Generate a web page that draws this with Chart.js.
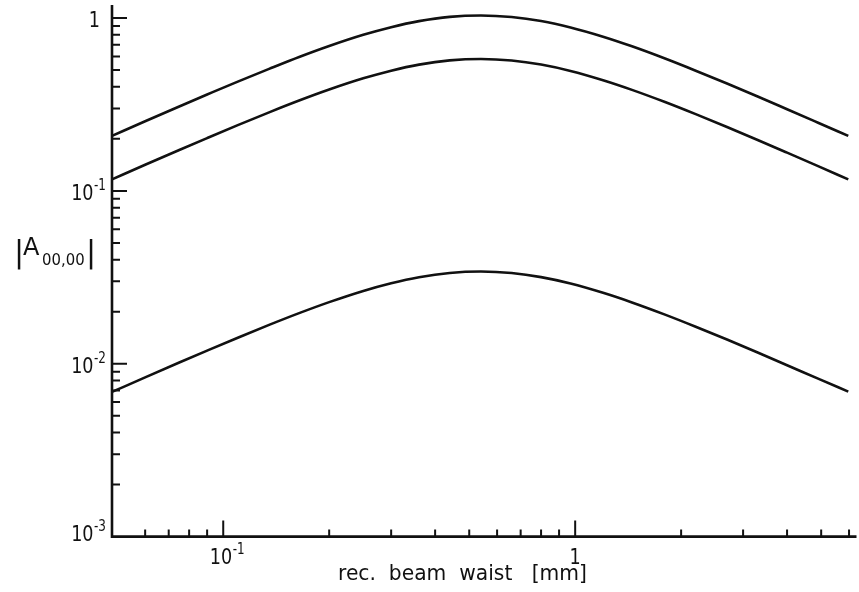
<!DOCTYPE html>
<html>
<head>
<meta charset="utf-8">
<script src="https://cdn.jsdelivr.net/npm/chart.js@4.4.1/dist/chart.umd.min.js"></script>
<style>
  html, body { margin: 0; padding: 0; background: #fff; }
  #wrap { width: 859px; height: 592px; }
</style>
</head>
<body>
<div id="wrap"><canvas id="chart" width="859" height="592"></canvas></div>
<script>
// rec. beam waist [mm]
const waist    = [0.0483, 0.06, 0.075, 0.09, 0.11, 0.135, 0.165, 0.2, 0.25, 0.3, 0.36, 0.44, 0.54,
                  0.66, 0.8, 0.97, 1.2, 1.45, 1.8, 2.2, 2.7, 3.3, 4, 4.9, 5.97];
// |A00,00| for the three curves
const curveTop = [0.208, 0.253, 0.308, 0.361, 0.429, 0.508, 0.597, 0.689, 0.800, 0.886, 0.960, 1.016, 1.035,
                  1.014, 0.961, 0.882, 0.780, 0.686, 0.583, 0.496, 0.418, 0.352, 0.297, 0.248, 0.208];
const curveMid = [0.1166, 0.1416, 0.1724, 0.2021, 0.2401, 0.2847, 0.3342, 0.3857, 0.4478, 0.4963, 0.5378, 0.5688, 0.5797,
                  0.5681, 0.5380, 0.4941, 0.4367, 0.3842, 0.3267, 0.2780, 0.2341, 0.1971, 0.1665, 0.1391, 0.1166];
const curveLow = [0.00687, 0.00834, 0.01016, 0.01191, 0.01415, 0.01678, 0.01969, 0.02273, 0.02639, 0.02924, 0.03169, 0.03352, 0.03416,
                  0.03348, 0.03170, 0.02912, 0.02573, 0.02264, 0.01925, 0.01638, 0.0138, 0.01161, 0.00981, 0.0082, 0.00690];

// axis ticks and labels
const xMajor = [0.1, 1];
const xMinor = [0.06, 0.07, 0.08, 0.09, 0.2, 0.3, 0.4, 0.5, 0.6, 0.7, 0.8, 0.9, 2, 3, 4, 5, 6];
const xTickBase = ['10', '1'];
const xTickExp  = ['-1', ''];
const yMajor = [1, 0.1, 0.01, 0.001];
const yMinor = [0.9, 0.8, 0.7, 0.6, 0.5, 0.4, 0.3, 0.2,
                0.09, 0.08, 0.07, 0.06, 0.05, 0.04, 0.03, 0.02,
                0.009, 0.008, 0.007, 0.006, 0.005, 0.004, 0.003, 0.002];
const yTickBase = ['1', '10', '10', '10'];
const yTickExp  = ['', '-1', '-2', '-3'];

const FONT = '"DejaVu Sans"';
const SX = 0.8; // squeeze text a bit, the original lettering is narrow

function txt(ctx, s, x, y, size, align, sx) {
  sx = sx || SX;
  ctx.save();
  ctx.font = size + 'px ' + FONT;
  const w = ctx.measureText(s).width * sx;
  const left = align === 'right' ? x - w : align === 'center' ? x - w / 2 : x;
  ctx.translate(left, y);
  ctx.scale(sx, 1);
  ctx.textAlign = 'left';
  ctx.textBaseline = 'alphabetic';
  ctx.fillText(s, 0, 0);
  ctx.restore();
  return w;
}

function widthOf(ctx, s, size) {
  ctx.save();
  ctx.font = size + 'px ' + FONT;
  const w = ctx.measureText(s).width * SX;
  ctx.restore();
  return w;
}

// 10^-n style label drawn from its left edge
function powLabel(ctx, base, exp, left, baseline) {
  const wb = txt(ctx, base, left, baseline, 22, 'left');
  if (exp) txt(ctx, exp, left + wb + 0.5, baseline - 10, 15, 'left');
}
function powWidth(ctx, base, exp) {
  return widthOf(ctx, base, 22) + (exp ? widthOf(ctx, exp, 15) + 0.5 : 0);
}

const axesPlugin = {
  id: 'axesPlugin',
  afterDraw(chart) {
    const ctx = chart.ctx;
    const xs = chart.scales.x, ys = chart.scales.y;
    const a = chart.chartArea;
    ctx.save();
    ctx.strokeStyle = '#111';
    ctx.fillStyle = '#111';
    ctx.lineCap = 'butt';

    // axis lines
    ctx.lineWidth = 2.6;
    ctx.beginPath();
    ctx.moveTo(a.left, a.top);
    ctx.lineTo(a.left, a.bottom + 1.3);
    ctx.moveTo(a.left - 1.3, a.bottom);
    ctx.lineTo(a.right, a.bottom);
    ctx.stroke();

    // ticks, pointing into the plot
    ctx.lineWidth = 2;
    ctx.beginPath();
    yMajor.forEach(v => { if (v < 0.005) return; const p = ys.getPixelForValue(v); ctx.moveTo(a.left, p); ctx.lineTo(a.left + 15, p); });
    yMinor.forEach(v => { const p = ys.getPixelForValue(v); ctx.moveTo(a.left, p); ctx.lineTo(a.left + 8, p); });
    xMajor.forEach(v => { const p = xs.getPixelForValue(v); ctx.moveTo(p, a.bottom); ctx.lineTo(p, a.bottom - 16); });
    xMinor.forEach(v => { const p = xs.getPixelForValue(v); ctx.moveTo(p, a.bottom); ctx.lineTo(p, a.bottom - 7); });
    ctx.stroke();

    // y tick labels
    yMajor.forEach((v, i) => {
      const p = ys.getPixelForValue(v);
      const right = yTickExp[i] ? 106 : 100;
      const w = powWidth(ctx, yTickBase[i], yTickExp[i]);
      const dy = v < 0.005 ? 4 : 9;
      powLabel(ctx, yTickBase[i], yTickExp[i], right - w, p + dy);
    });
    // x tick labels
    xMajor.forEach((v, i) => {
      const p = xs.getPixelForValue(v);
      const w = powWidth(ctx, xTickBase[i], xTickExp[i]);
      const c = xTickExp[i] ? p + 4 : p;
      powLabel(ctx, xTickBase[i], xTickExp[i], c - w / 2, a.bottom + 27);
    });

    // x axis title, spread to the original width
    ctx.font = '22px ' + FONT;
    const title = 'rec.  beam  waist   [mm]';
    const tw = ctx.measureText(title).width;
    txt(ctx, title, 462.5, 580, 22, 'center', 249 / tw);

    // y axis title |A00,00|
    txt(ctx, '|', 14, 262, 30, 'left', 1);
    txt(ctx, 'A', 23, 255, 24, 'left', 1);
    txt(ctx, '00,00', 42, 265, 16, 'left', 0.93);
    txt(ctx, '|', 86, 262, 30, 'left', 1);

    ctx.restore();
  }
};

const series = [curveTop, curveMid, curveLow];

new Chart(document.getElementById('chart'), {
  type: 'line',
  data: {
    datasets: series.map(ys => ({
      data: waist.map((x, i) => ({ x: x, y: ys[i] })),
      borderColor: '#111',
      borderWidth: 2.6,
      pointRadius: 0,
      fill: false,
      cubicInterpolationMode: 'monotone',
    })),
  },
  options: {
    responsive: false,
    animation: false,
    layout: { padding: { left: 112, right: 2.5, top: 5, bottom: 55.4 } },
    plugins: { legend: { display: false }, tooltip: { enabled: false } },
    scales: {
      x: { type: 'logarithmic', min: 0.0483, max: 6.3, display: false },
      y: { type: 'logarithmic', min: 0.001, max: 1.19, display: false },
    },
  },
  plugins: [axesPlugin],
});
</script>
</body>
</html>
